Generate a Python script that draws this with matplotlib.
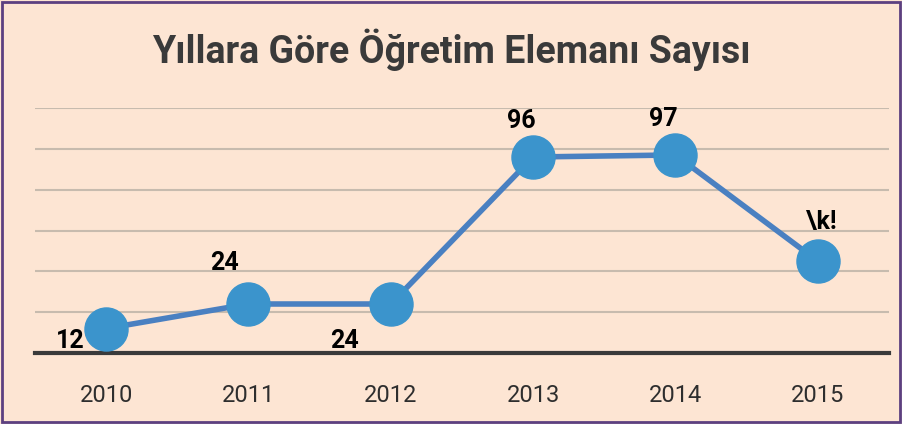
import matplotlib.pyplot as plt
from matplotlib.patches import Rectangle

years = ["2010", "2011", "2012", "2013", "2014", "2015"]
values = [12, 24, 24, 96, 97, 45]
labels = ["12", "24", "24", "96", "97", "\\k!"]
# label offsets in pixels (dx, dy) relative to each point
offsets = [(-36, -12), (-24, 41), (-46, -37), (-12, 36), (-12, 36), (4, 39)]

bg = "#fde5d3"
fig = plt.figure(figsize=(9.02, 4.24), dpi=100, facecolor=bg)
ax = fig.add_axes([35 / 902, (424 - 353) / 424, 854 / 902, 245 / 424])
ax.set_facecolor(bg)

x = list(range(len(years)))
ax.plot(x, values, color="#4a80c1", lw=4, zorder=3, solid_capstyle="round")
ax.plot(x, values, "o", ms=31, color="#3b94cc", zorder=4)

for xi, v, lab, (dx, dy) in zip(x, values, labels, offsets):
    ax.annotate(lab, (xi, v), xytext=(dx, dy), textcoords="offset pixels",
                ha="center", va="center", fontsize=18, fontweight="bold",
                family="Roboto", color="black", zorder=5)

ax.set_xlim(-0.5, 5.5)
ax.set_ylim(0, 120)
ax.set_yticks(range(20, 121, 20))
ax.yaxis.grid(True, color="#c7bbae", lw=1.5)
ax.set_axisbelow(True)
ax.tick_params(axis="y", left=False, labelleft=False)
ax.tick_params(axis="x", length=0, pad=22, labelsize=17, labelcolor="#2e2e2e")
ax.set_xticks(x)
ax.set_xticklabels(years, family="Roboto", fontweight="normal")
for s in ["top", "right", "left"]:
    ax.spines[s].set_visible(False)
ax.spines["bottom"].set_color("#3a3a3a")
ax.spines["bottom"].set_linewidth(3)
ax.spines["bottom"].set_zorder(2)

fig.text(0.5, 1 - 50 / 424, "Yıllara Göre Öğretim Elemanı Sayısı",
         ha="center", va="center", fontsize=27, fontweight="bold",
         family="Roboto", color="#3a3a3a")

fig.patches.append(Rectangle((0.002, 0.004), 0.996, 0.992, transform=fig.transFigure,
                             fill=False, edgecolor="#5c4080", lw=2))

fig.savefig("out.png", dpi=100, facecolor=bg)
